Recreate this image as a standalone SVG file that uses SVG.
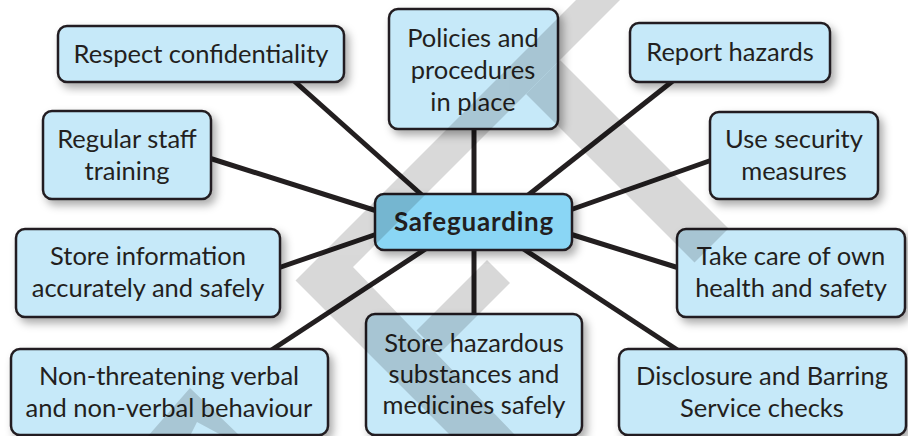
<svg xmlns="http://www.w3.org/2000/svg" width="908" height="436" viewBox="0 0 908 436">
<defs>
<filter id="sh" x="-10%" y="-10%" width="125%" height="135%">
<feDropShadow dx="4" dy="5" stdDeviation="4" flood-color="#000" flood-opacity="0.33"/>
</filter>
<style>
.box{fill:#c6e9f9;stroke:#231f20;stroke-width:2.5;filter:url(#sh)}
.main{fill:#8ad6f5;stroke:#231f20;stroke-width:2.5;filter:url(#sh)}
.t{font-family:Lato,"Open Sans","Liberation Sans",sans-serif;font-size:25.5px;fill:#231f20;text-anchor:middle}
.tb{font-family:Lato,"Open Sans","Liberation Sans",sans-serif;font-size:26px;letter-spacing:0.8px;font-weight:bold;fill:#231f20;text-anchor:middle}
.c line{stroke:#231f20;stroke-width:5}
</style>
</defs>
<rect width="908" height="436" fill="#fff"/>
<g class="c" id="connectors">
<line x1="293" y1="80" x2="423" y2="196"/>
<line x1="209" y1="158" x2="377" y2="211"/>
<line x1="474" y1="127" x2="474" y2="196"/>
<line x1="674" y1="80" x2="527" y2="196"/>
<line x1="712" y1="160" x2="570" y2="210"/>
<line x1="278" y1="268" x2="377" y2="234"/>
<line x1="270" y1="351" x2="427" y2="248"/>
<line x1="474" y1="248" x2="474" y2="316"/>
<line x1="679" y1="268" x2="570" y2="234"/>
<line x1="679" y1="351" x2="522" y2="248"/>
</g>
<g id="n-respect"><rect class="box" x="58" y="26" width="286" height="56" rx="9"/><text class="t" x="201" y="63">Respect confidentiality</text></g>
<g id="n-training"><rect class="box" x="43" y="111" width="168" height="88" rx="9"/><text class="t" x="127" y="148">Regular staff</text><text class="t" x="127" y="180">training</text></g>
<g id="n-policies"><rect class="box" x="389" y="9" width="169" height="120" rx="9"/><text class="t" x="473" y="47">Policies and</text><text class="t" x="473" y="79">procedures</text><text class="t" x="473" y="111">in place</text></g>
<g id="n-report"><rect class="box" x="630" y="23" width="200" height="59" rx="9"/><text class="t" x="730" y="61">Report hazards</text></g>
<g id="n-security"><rect class="box" x="710" y="112" width="168" height="87" rx="9"/><text class="t" x="794" y="148">Use security</text><text class="t" x="794" y="180">measures</text></g>
<g id="n-main"><rect class="main" x="375" y="194" width="197" height="56" rx="9"/><text class="tb" x="474" y="231">Safeguarding</text></g>
<g id="n-storeinfo"><rect class="box" x="16" y="229" width="264" height="88" rx="9"/><text class="t" x="148" y="265">Store information</text><text class="t" x="148" y="297">accurately and safely</text></g>
<g id="n-health"><rect class="box" x="677" y="229" width="228" height="88" rx="9"/><text class="t" x="791" y="265">Take care of own</text><text class="t" x="791" y="297">health and safety</text></g>
<g id="n-behaviour"><rect class="box" x="11" y="349" width="317" height="86" rx="9"/><text class="t" x="169" y="385">Non-threatening verbal</text><text class="t" x="169" y="417">and non-verbal behaviour</text></g>
<g id="n-hazardous"><rect class="box" x="366" y="314" width="216" height="121" rx="9"/><text class="t" x="474" y="352">Store hazardous</text><text class="t" x="474" y="383">substances and</text><text class="t" x="474" y="414">medicines safely</text></g>
<g id="n-dbs"><rect class="box" x="619" y="349" width="287" height="86" rx="9"/><text class="t" x="762" y="385">Disclosure and Barring</text><text class="t" x="762" y="417">Service checks</text></g>
<g id="watermark" opacity="0.15" fill="#000">
<polygon points="576,0 620,0 353,267 516,436 451,436 295.5,280.5"/>
<polygon points="487,260 510,283 439.5,353.5 416.5,330.5"/>
<polygon points="560,60 728.5,228.5 694.5,262.5 526,94"/>
<polygon points="148,436 190,388 240,436 223,436 197,422 190,436"/>
</g>
</svg>
